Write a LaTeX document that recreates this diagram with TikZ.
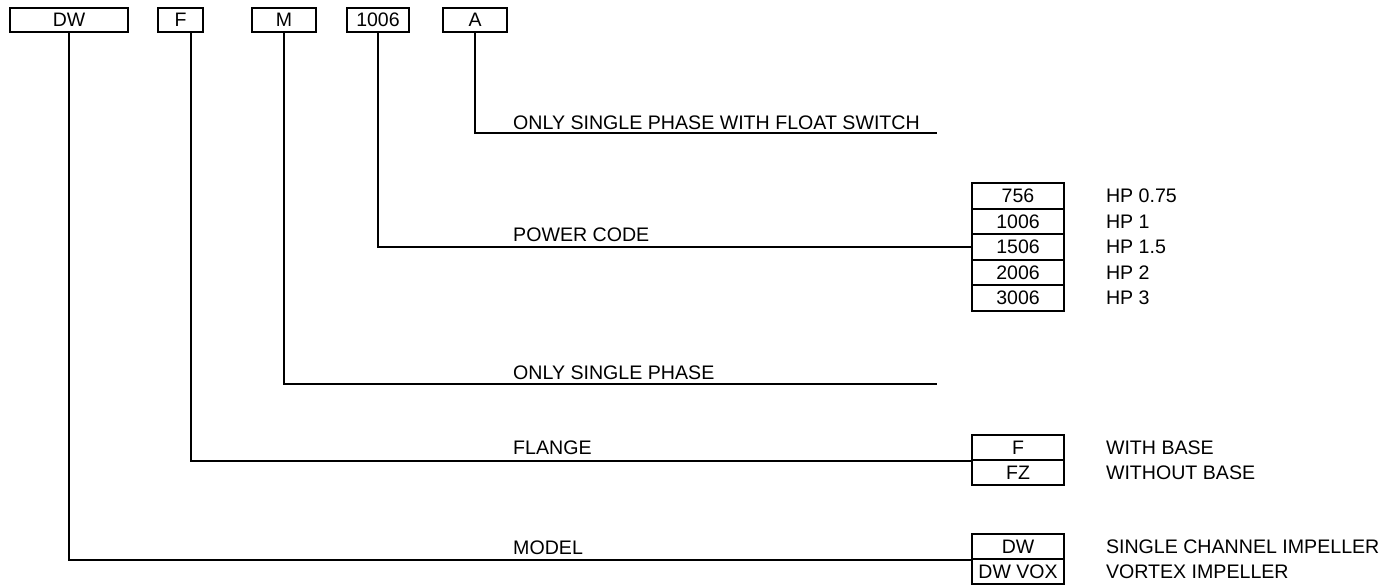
\documentclass[tikz,border=0pt]{standalone}
\usepackage{fontspec}
\setmainfont{Liberation Sans}
\usetikzlibrary{positioning}
\tikzset{
  codebox/.style={draw=black, line width=1.6pt, inner sep=0pt, minimum height=24pt, align=center, font=\fontsize{19.5}{22}\selectfont},
  rowbox/.style={draw=black, line width=1.6pt, inner sep=0pt, minimum width=92pt, minimum height=25.5pt, align=center, font=\fontsize{19.5}{22}\selectfont},
  lbl/.style={inner sep=0pt, anchor=base west, font=\fontsize{19.6}{22}\selectfont},
  desc/.style={inner sep=0pt, anchor=west, font=\fontsize{19.6}{22}\selectfont},
  wire/.style={line width=1.6pt}
}

\begin{document}
\begin{tikzpicture}[x=1pt, y=-1pt]
\useasboundingbox (0,0) rectangle (1388,585);
% code boxes on top
\node[codebox, minimum width=118pt] (codeDW) at (69,20) {DW};
\node[codebox, minimum width=45pt] (codeF) at (180.5,20) {F};
\node[codebox, minimum width=64pt] (codeM) at (284,20) {M};
\node[codebox, minimum width=62pt] (codePow) at (378,20) {1006};
\node[codebox, minimum width=64pt] (codeA) at (475,20) {A};
% power table
\node[rowbox] (pw756) at (1018,196) {756};
\node[rowbox] (pw1006) at (1018,221.5) {1006};
\node[rowbox] (pw1506) at (1018,247) {1506};
\node[rowbox] (pw2006) at (1018,272.5) {2006};
\node[rowbox] (pw3006) at (1018,298) {3006};
\node[desc, right=41pt of pw756] (hp075) {HP 0.75};
\node[desc, right=41pt of pw1006] (hp1) {HP 1};
\node[desc, right=41pt of pw1506] (hp15) {HP 1.5};
\node[desc, right=41pt of pw2006] (hp2) {HP 2};
\node[desc, right=41pt of pw3006] (hp3) {HP 3};
% flange table
\node[rowbox] (flF) at (1018,447.5) {F};
\node[rowbox] (flFZ) at (1018,472.5) {FZ};
\node[desc, right=41pt of flF] (withBase) {WITH BASE};
\node[desc, right=41pt of flFZ] (withoutBase) {WITHOUT BASE};
% model table
\node[rowbox] (mdDW) at (1018,546.5) {DW};
\node[rowbox] (mdVOX) at (1018,571.5) {DW VOX};
\node[desc, right=41pt of mdDW] (singleCh) {SINGLE CHANNEL IMPELLER};
\node[desc, right=41pt of mdVOX] (vortex) {VORTEX IMPELLER};
% free ends
\coordinate (endA) at (937,133);
\coordinate (endM) at (937,384);
% connectors
\draw[wire] (codeA.south) |- (endA);
\draw[wire] (codePow.south) |- (pw1506.west);
\draw[wire] (codeM.south) |- (endM);
\draw[wire] ([xshift=10.5pt]codeF.south) |- (flF.south west);
\draw[wire] (codeDW.south) |- (mdDW.south west);
% labels
\node[lbl] (lblA) at (513,129.5) {ONLY SINGLE PHASE WITH FLOAT SWITCH};
\node[lbl] (lblPow) at (513,242) {POWER CODE};
\node[lbl] (lblM) at (513,379) {ONLY SINGLE PHASE};
\node[lbl] (lblF) at (513,454) {FLANGE};
\node[lbl] (lblDW) at (513,554) {MODEL};
\end{tikzpicture}
\end{document}
